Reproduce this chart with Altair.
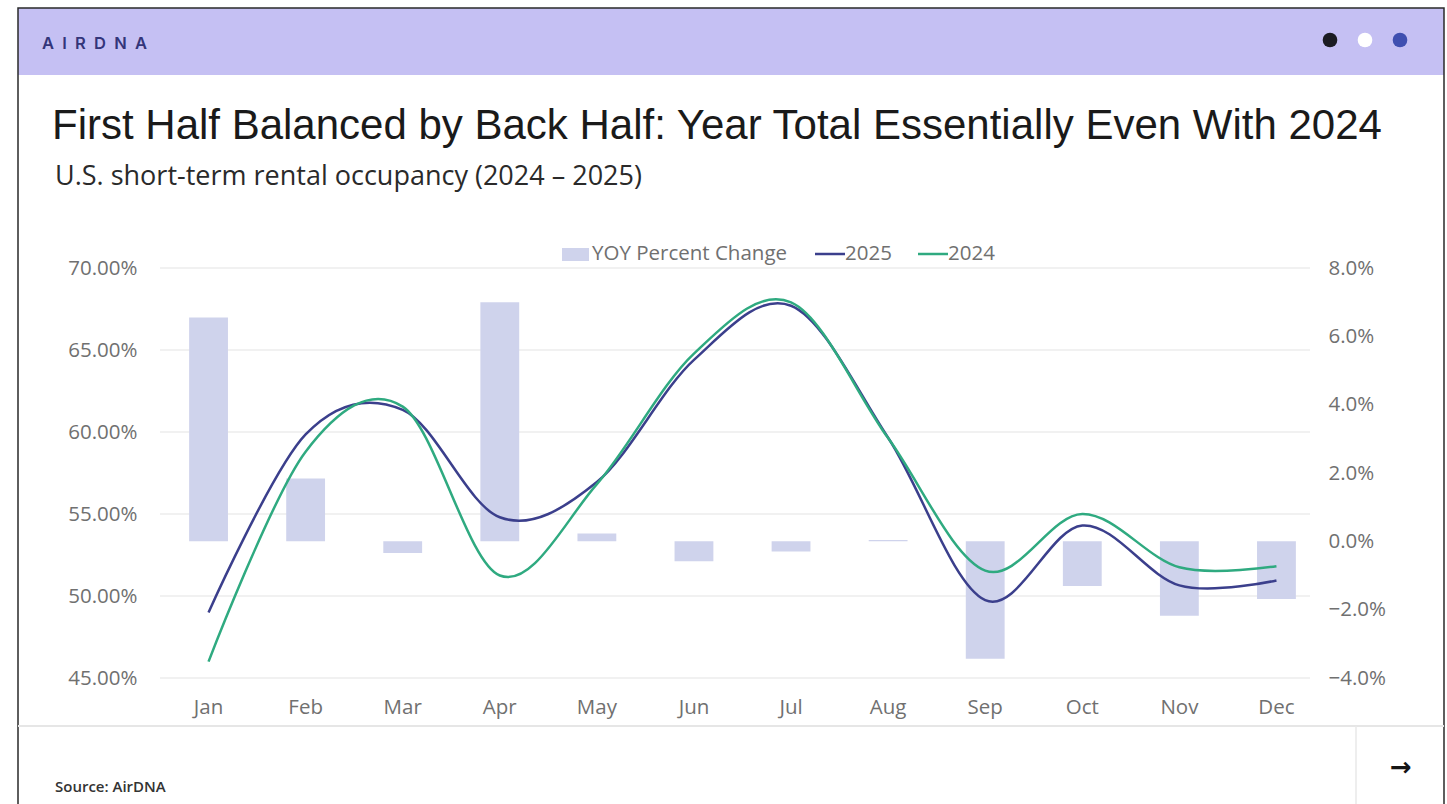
import altair as alt
import pandas as pd

# ---- data -------------------------------------------------------------
months = ["Jan", "Feb", "Mar", "Apr", "May", "Jun",
          "Jul", "Aug", "Sep", "Oct", "Nov", "Dec"]
occ_2025 = [49.0, 59.85, 61.35, 54.8, 56.95, 64.4, 67.7, 59.65, 49.75, 54.3, 50.65, 50.95]
occ_2024 = [46.0, 58.8, 61.55, 51.25, 56.82, 64.78, 67.9, 59.63, 51.55, 55.0, 51.75, 51.82]
yoy_pct = [6.55, 1.84, -0.34, 7.0, 0.23, -0.58, -0.3, 0.04, -3.44, -1.31, -2.18, -1.69]
occ_ticks = [45, 50, 55, 60, 65, 70]
yoy_ticks = [-4, -2, 0, 2, 4, 6, 8]

bars_df = pd.DataFrame({"month": months, "yoy": yoy_pct})
line25_df = pd.DataFrame({"month": months, "occ": occ_2025})
line24_df = pd.DataFrame({"month": months, "occ": occ_2024})
grid_df = pd.DataFrame({"v": occ_ticks})
one = pd.DataFrame({"k": [0]})

# ---- layout -----------------------------------------------------------
PAD_L, PAD_T, PAD_R, PAD_B = 160, 268, 122, 126
W, H = 1447 - PAD_L - PAD_R, 804 - PAD_T - PAD_B


def px(x):
    return x - PAD_L


def py(y):
    return y - PAD_T


C_2025 = "#3b3f8c"
C_2024 = "#2faa80"
C_BAR = "#cfd3ec"
C_LABEL = "#707070"
C_HEADER = "#c5c0f3"
LABEL_SIZE = 20.5
EN_SPACE = "\u2002"


def text(s, x, y, size, font="Open Sans", color=C_LABEL, weight="normal",
         align="left", baseline="middle"):
    return alt.Chart(one).mark_text(
        text=s, align=align, baseline=baseline, font=font,
        fontSize=size, fontWeight=weight, color=color,
    ).encode(x=alt.value(px(x)), y=alt.value(py(y)))


def rect(x0, x1, y0, y1, **kw):
    return alt.Chart(one).mark_rect(**kw).encode(
        x=alt.value(px(x0)), x2=alt.value(px(x1)),
        y=alt.value(py(y0)), y2=alt.value(py(y1)),
    )


def hrule(x0, x1, y, **kw):
    return alt.Chart(one).mark_rule(**kw).encode(
        x=alt.value(px(x0)), x2=alt.value(px(x1)), y=alt.value(py(y)))


def vrule(x, y0, y1, **kw):
    return alt.Chart(one).mark_rule(**kw).encode(
        x=alt.value(px(x)), y=alt.value(py(y0)), y2=alt.value(py(y1)))


def dot(x, y, color):
    return alt.Chart(one).mark_point(
        filled=True, shape="circle", size=215, opacity=1, color=color
    ).encode(x=alt.value(px(x)), y=alt.value(py(y)))


# ---- card chrome --------------------------------------------------------
header = rect(18, 1444, 8, 75, color=C_HEADER)
frame = rect(18, 1444, 8, 840, fillOpacity=0, stroke="#2a2a2a", strokeWidth=1.5)
logo = text(EN_SPACE.join("AIRDNA"), 42, 44, 16.5, font="Inter",
            color="#33357a", weight=600)
dots = [dot(1330, 40, "#1c1c22"), dot(1365, 40, "#ffffff"), dot(1400, 40, "#3f4fb0")]
title = text("First Half Balanced by Back Half: Year Total Essentially Even With 2024",
             52, 139, 42, font="Liberation Sans", color="#1a1a1a",
             baseline="alphabetic")
subtitle = text("U.S. short-term rental occupancy (2024 \u2013 2025)", 55, 185, 27,
                color="#2a2a2a", baseline="alphabetic")
footer_line = hrule(18, 1444, 726, color="#e6e6e6", strokeWidth=2)
footer_split = vrule(1356, 726, 840, color="#e8e8e8", strokeWidth=1.5)
source = text("Source: AirDNA", 55, 787, 15, color="#333333", weight=600)
arrow = text("\u2192", 1401, 768, 26, font="DejaVu Sans", color="#151515",
             weight="bold", align="center")

# ---- legend ---------------------------------------------------------------
legend = [
    rect(562, 589, 248, 261, color=C_BAR),
    text("YOY Percent Change", 592, 254, LABEL_SIZE),
    hrule(815, 845, 254, color=C_2025, strokeWidth=2.5),
    text("2025", 845, 254, LABEL_SIZE),
    hrule(918, 948, 254, color=C_2024, strokeWidth=2.5),
    text("2024", 948, 254, LABEL_SIZE),
]

# ---- plot -------------------------------------------------------------------
x_enc = alt.X(
    "month:N", sort=months,
    scale=alt.Scale(type="band", paddingInner=0.6, paddingOuter=0.3),
    axis=alt.Axis(title=None, labelAngle=0, ticks=False, domain=False, grid=False,
                  labelPadding=19, labelFontSize=LABEL_SIZE, labelColor=C_LABEL,
                  labelFont="Open Sans"),
)

occ_scale = alt.Scale(domain=[45, 70], nice=False, zero=False)

gridlines = alt.Chart(grid_df).mark_rule(color="#ececec", strokeWidth=1.3).encode(
    y=alt.Y("v:Q", scale=occ_scale, axis=None),
    x=alt.value(0), x2=alt.value(1150),
)

bars = alt.Chart(bars_df).mark_bar(color=C_BAR).encode(
    x=x_enc,
    y=alt.Y("yoy:Q", scale=alt.Scale(domain=[-4, 8], nice=False),
            axis=alt.Axis(orient="right", values=yoy_ticks, title=None,
                          labelExpr="format(datum.value, '.1f') + '%'",
                          ticks=False, domain=False, grid=False, labelPadding=3,
                          labelFontSize=LABEL_SIZE, labelColor=C_LABEL,
                          labelFont="Open Sans")),
)

line25 = alt.Chart(line25_df).mark_line(
    interpolate="cardinal", tension=0, color=C_2025, strokeWidth=2.5
).encode(
    x=x_enc,
    y=alt.Y("occ:Q", scale=occ_scale,
            axis=alt.Axis(orient="left", values=occ_ticks, title=None,
                          labelExpr="format(datum.value, '.2f') + '%'",
                          ticks=False, domain=False, grid=False, labelPadding=23,
                          labelFontSize=LABEL_SIZE, labelColor=C_LABEL,
                          labelFont="Open Sans")),
)

line24 = alt.Chart(line24_df).mark_line(
    interpolate="cardinal", tension=0, color=C_2024, strokeWidth=2.5
).encode(
    x=x_enc,
    y=alt.Y("occ:Q", scale=occ_scale, axis=None),
)

chart = alt.layer(
    header, frame, logo, *dots, title, subtitle, footer_line, footer_split,
    source, arrow, gridlines, bars, line25, line24, *legend,
).resolve_scale(
    y="independent"
).properties(
    width=W, height=H,
    padding={"left": PAD_L, "top": PAD_T, "right": PAD_R, "bottom": PAD_B},
    autosize=alt.AutoSizeParams(type="none"),
    background="white",
).configure_view(stroke=None)

chart.save("out.html", embed_options={"renderer": "svg", "actions": False})
